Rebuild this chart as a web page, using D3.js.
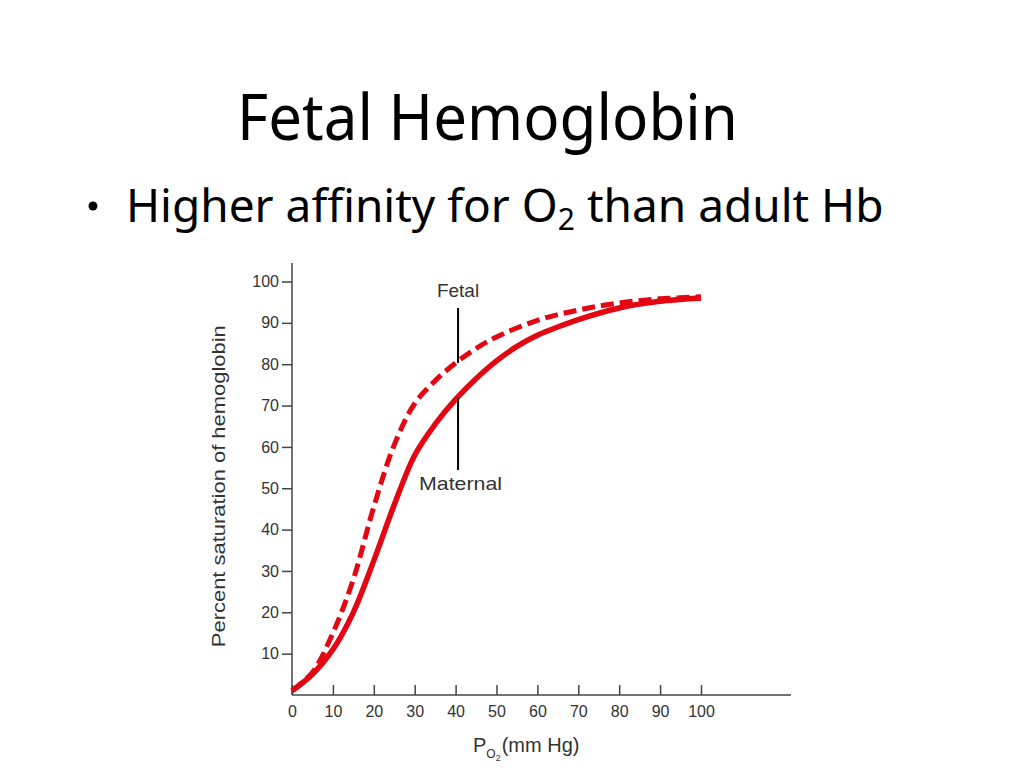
<!DOCTYPE html>
<html>
<head>
<meta charset="utf-8">
<script src="https://cdn.jsdelivr.net/npm/d3@7"></script>
<style>
  html, body { margin: 0; padding: 0; background: #fff; }
  svg { display: block; }
</style>
</head>
<body>
<svg id="chart" width="1024" height="768"></svg>
<script>
// ---- data ----
const po2Fetal = [0, 5, 10, 15, 20, 25, 30, 35, 40, 45, 50, 60, 70, 80, 90, 100];
const satFetal = [1, 5.5, 15, 28, 45.5, 60.5, 70.5, 76, 80.3, 83.8, 86.6, 90.6, 93.1, 94.8, 95.8, 96.3];
const po2Maternal = [0, 5, 10, 15, 20, 25, 30, 35, 40, 45, 50, 55, 60, 65, 70, 80, 90, 100];
const satMaternal = [1, 5, 11, 20, 32.5, 46, 58, 65.5, 71.5, 76.5, 80.8, 84.3, 87, 89, 90.8, 93.6, 95.2, 96];
const xTicks = [0, 10, 20, 30, 40, 50, 60, 70, 80, 90, 100];
const yTicks = [10, 20, 30, 40, 50, 60, 70, 80, 90, 100];
const fetalLabelLine = [93.6, 80.3];     // saturation range of pointer line at PO2 = 40.6
const maternalLabelLine = [71.8, 54.4];
const pointerPO2 = 40.6;

const svg = d3.select("#chart");
const x = d3.scaleLinear().domain([0, 100]).range([292, 701]);
const y = d3.scaleLinear().domain([0, 100]).range([695, 281.5]);

const axisColor = "#444";
const textColor = "#333";
const chartFont = "'Liberation Sans', Arial, sans-serif";

// ---- title ----
svg.append("text")
  .attr("x", 237).attr("y", 140)
  .attr("font-family", "'Noto Sans', sans-serif")
  .attr("font-size", 64)
  .attr("fill", "#000")
  .attr("textLength", 501).attr("lengthAdjust", "spacingAndGlyphs")
  .text("Fetal Hemoglobin");

// bullet
svg.append("circle").attr("cx", 93).attr("cy", 206).attr("r", 4.5).attr("fill", "#000");
const bullet = svg.append("text")
  .attr("x", 126).attr("y", 222)
  .attr("font-family", "'Noto Sans', sans-serif")
  .attr("font-size", 46)
  .attr("fill", "#000");
bullet.append("tspan").text("Higher affinity for O");
bullet.append("tspan").attr("font-size", 30).attr("dy", 8).text("2");
bullet.append("tspan").attr("dy", -8).text(" than adult Hb");

// ---- axes ----
const gx = svg.append("g").attr("transform", `translate(0,${y(0)})`)
  .call(d3.axisBottom(x).tickValues(xTicks).tickSizeInner(-10).tickSizeOuter(0).tickPadding(7));
gx.select(".domain").remove();
gx.selectAll(".tick line").attr("stroke", axisColor).attr("stroke-width", 1.5);
gx.selectAll(".tick text").attr("font-family", chartFont).attr("font-size", 16).attr("fill", textColor)
  .attr("dy", "0.95em");
svg.append("line")
  .attr("x1", x(0)).attr("x2", x(122))
  .attr("y1", y(0)).attr("y2", y(0))
  .attr("stroke", axisColor).attr("stroke-width", 1.5);

const gy = svg.append("g").attr("transform", `translate(${x(0)},0)`)
  .call(d3.axisLeft(y).tickValues(yTicks).tickSizeInner(10).tickSizeOuter(0).tickPadding(3));
gy.select(".domain").remove();
gy.selectAll(".tick line").attr("stroke", axisColor).attr("stroke-width", 1.5);
gy.selectAll(".tick text").attr("font-family", chartFont).attr("font-size", 16).attr("fill", textColor);
svg.append("line")
  .attr("x1", x(0)).attr("x2", x(0))
  .attr("y1", y(0)).attr("y2", y(104.5))
  .attr("stroke", axisColor).attr("stroke-width", 1.5);

// axis titles
svg.append("text")
  .attr("transform", `translate(225,${y(50.5)}) rotate(-90)`)
  .attr("text-anchor", "middle")
  .attr("font-family", chartFont).attr("font-size", 19).attr("fill", textColor)
  .attr("textLength", 322).attr("lengthAdjust", "spacingAndGlyphs")
  .text("Percent saturation of hemoglobin");

const xt = svg.append("text")
  .attr("x", 473).attr("y", 752)
  .attr("font-family", chartFont).attr("font-size", 20).attr("fill", textColor);
xt.append("tspan").text("P");
xt.append("tspan").attr("font-size", 12).attr("dy", 6).text("O");
xt.append("tspan").attr("font-size", 9).attr("dy", 3).text("2");
xt.append("tspan").attr("dy", -9).attr("dx", 1).text("(mm Hg)");

// ---- curves ----
const red = "#e30613";
const line = d3.line().x(d => x(d[0])).y(d => y(d[1])).curve(d3.curveCatmullRom.alpha(0.5));
const fetal = po2Fetal.map((p, i) => [p, satFetal[i]]);
const maternal = po2Maternal.map((p, i) => [p, satMaternal[i]]);

svg.append("path").datum(maternal).attr("d", line)
  .attr("fill", "none").attr("stroke", red).attr("stroke-width", 5.5)
  .attr("stroke-linejoin", "round");
svg.append("path").datum(fetal).attr("d", line)
  .attr("fill", "none").attr("stroke", red).attr("stroke-width", 5)
  .attr("stroke-dasharray", "13,6");

// ---- annotations ----
[fetalLabelLine, maternalLabelLine].forEach(seg => {
  svg.append("line")
    .attr("x1", x(pointerPO2)).attr("x2", x(pointerPO2))
    .attr("y1", y(seg[0])).attr("y2", y(seg[1]))
    .attr("stroke", "#000").attr("stroke-width", 2);
});
svg.append("text")
  .attr("x", x(pointerPO2)).attr("y", 297)
  .attr("text-anchor", "middle")
  .attr("font-family", chartFont).attr("font-size", 19).attr("fill", textColor)
  .text("Fetal");
svg.append("text")
  .attr("x", 419).attr("y", 490)
  .attr("font-family", chartFont).attr("font-size", 19).attr("fill", textColor)
  .attr("textLength", 83).attr("lengthAdjust", "spacingAndGlyphs")
  .text("Maternal");
</script>
</body>
</html>
